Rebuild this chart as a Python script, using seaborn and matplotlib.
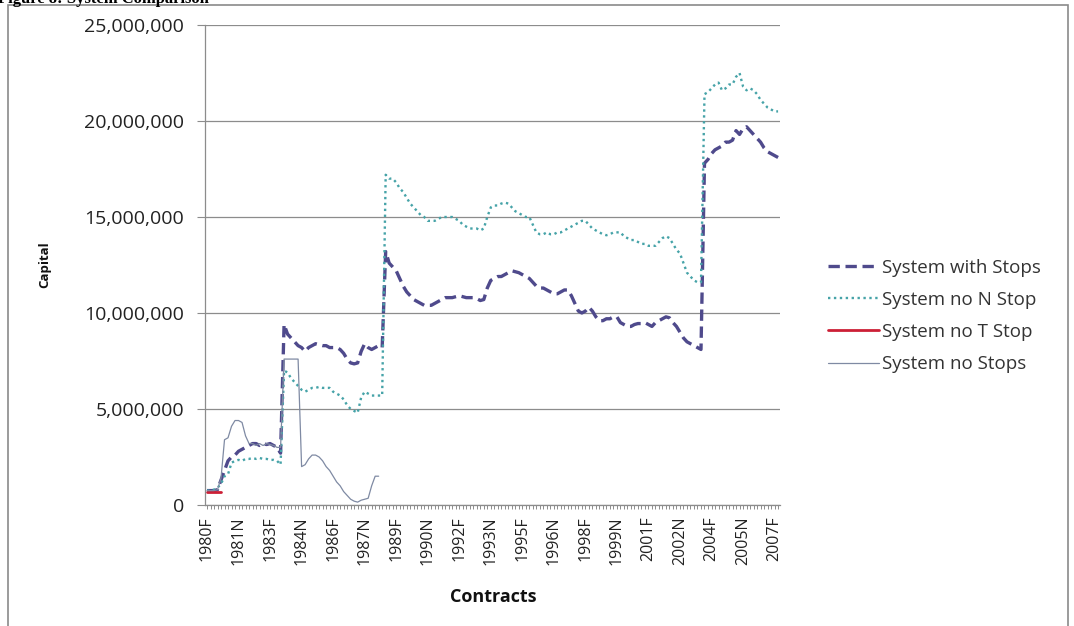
import matplotlib
matplotlib.use("Agg")
import matplotlib.pyplot as plt
from matplotlib.lines import Line2D
from matplotlib.patches import Rectangle
from matplotlib.ticker import FuncFormatter, FixedLocator
import numpy as np
import pandas as pd
import seaborn as sns

# Contract months traded each year (Jan, Mar, May, Jul, Sep, Nov)
months = ["F", "H", "K", "N", "U", "X"]
years = list(range(1980, 2008))
contracts = [f"{y}{m}" for y in years for m in months][:164]

# Capital in millions, one value per contract
with_stops = [
    0.75, 0.75, 0.75, 0.80, 1.30, 1.80,
    2.30, 2.50, 2.60, 2.80, 2.90, 3.00,
    3.10, 3.20, 3.20, 3.10, 3.20, 3.15,
    3.20, 3.10, 3.00, 2.70, 9.40, 8.90,
    8.70, 8.50, 8.30, 8.20, 8.00, 8.20,
    8.30, 8.40, 8.35, 8.30, 8.30, 8.20,
    8.20, 8.20, 8.10, 7.90, 7.60, 7.40,
    7.35, 7.40, 8.00, 8.40, 8.20, 8.10,
    8.20, 8.30, 8.20, 13.20, 12.60, 12.40,
    12.20, 11.80, 11.40, 11.10, 10.90, 10.70,
    10.60, 10.50, 10.40, 10.40, 10.40, 10.50,
    10.60, 10.70, 10.80, 10.80, 10.80, 10.85,
    10.90, 10.85, 10.80, 10.80, 10.80, 10.75,
    10.65, 10.70, 11.30, 11.70, 11.80, 11.90,
    11.90, 12.00, 12.10, 12.20, 12.15, 12.10,
    12.00, 11.90, 11.80, 11.60, 11.40, 11.30,
    11.30, 11.20, 11.10, 11.00, 11.00, 11.10,
    11.20, 11.20, 10.90, 10.50, 10.10, 10.00,
    10.10, 10.30, 10.10, 9.80, 9.60, 9.60,
    9.70, 9.70, 9.80, 9.80, 9.50, 9.40,
    9.30, 9.30, 9.40, 9.45, 9.45, 9.50,
    9.40, 9.30, 9.50, 9.60, 9.70, 9.80,
    9.75, 9.50, 9.30, 9.00, 8.70, 8.50,
    8.40, 8.30, 8.20, 8.10, 17.80, 18.00,
    18.30, 18.50, 18.60, 18.70, 18.90, 18.90,
    19.00, 19.50, 19.30, 19.60, 19.70, 19.50,
    19.30, 19.10, 18.90, 18.60, 18.40, 18.30,
    18.20, 18.10,
]

no_n_stop = [
    0.75, 0.75, 0.80, 0.90, 1.10, 1.50,
    1.60, 2.20, 2.30, 2.35, 2.30, 2.40,
    2.40, 2.45, 2.40, 2.45, 2.40, 2.40,
    2.35, 2.35, 2.30, 2.10, 7.00, 6.90,
    6.60, 6.40, 6.20, 6.00, 5.90, 6.00,
    6.10, 6.10, 6.15, 6.10, 6.10, 6.10,
    5.90, 5.80, 5.70, 5.50, 5.20, 5.00,
    4.90, 4.80, 5.60, 5.90, 5.80, 5.70,
    5.70, 5.70, 5.70, 17.20, 17.00, 17.00,
    16.80, 16.50, 16.30, 16.00, 15.70, 15.50,
    15.30, 15.10, 15.00, 14.80, 14.80, 14.80,
    14.90, 15.00, 15.00, 15.00, 15.00, 14.90,
    14.80, 14.60, 14.50, 14.40, 14.40, 14.40,
    14.30, 14.40, 15.00, 15.50, 15.60, 15.60,
    15.70, 15.75, 15.70, 15.50, 15.30, 15.20,
    15.10, 15.00, 15.00, 14.60, 14.20, 14.10,
    14.10, 14.20, 14.10, 14.10, 14.20, 14.20,
    14.30, 14.40, 14.50, 14.60, 14.70, 14.80,
    14.80, 14.60, 14.40, 14.30, 14.20, 14.10,
    14.05, 14.10, 14.20, 14.20, 14.20, 14.00,
    13.90, 13.80, 13.80, 13.70, 13.60, 13.60,
    13.50, 13.50, 13.50, 13.70, 13.90, 14.00,
    13.90, 13.60, 13.30, 13.10, 12.60, 12.10,
    11.90, 11.70, 11.60, 11.60, 21.40, 21.50,
    21.70, 21.90, 22.00, 21.60, 21.70, 21.90,
    21.90, 22.30, 22.50, 21.80, 21.60, 21.70,
    21.60, 21.40, 21.10, 20.90, 20.70, 20.60,
    20.50, 20.50,
]

no_t_stop = [0.70, 0.70, 0.70, 0.70, 0.70]

no_stops = [
    0.75, 0.75, 0.75, 0.80, 1.40, 3.40,
    3.50, 4.10, 4.40, 4.40, 4.30, 3.60,
    3.20, 3.20, 3.10, 3.20, 3.10, 3.20,
    3.15, 3.10, 3.00, 3.00, 7.60, 7.60,
    7.60, 7.60, 7.60, 2.00, 2.10, 2.40,
    2.60, 2.60, 2.50, 2.30, 2.00, 1.80,
    1.50, 1.20, 1.00, 0.70, 0.50, 0.30,
    0.20, 0.15, 0.25, 0.30, 0.35, 1.00,
    1.50, 1.50,
]

series_names = ["System with Stops", "System no N Stop", "System no T Stop", "System no Stops"]
series_values = [with_stops, no_n_stop, no_t_stop, no_stops]

frames = []
for name, vals in zip(series_names, series_values):
    frames.append(pd.DataFrame({
        "series": name,
        "contract_idx": np.arange(len(vals)),
        "capital": np.asarray(vals) * 1e6,
    }))
df = pd.concat(frames, ignore_index=True)

styles = {
    "System with Stops": dict(color="#4f4a8c", linewidth=2.4, linestyle=(0, (3.4, 1.7))),
    "System no N Stop": dict(color="#46a3a8", linewidth=1.7, linestyle=(0, (1.0, 1.5))),
    "System no T Stop": dict(color="#cc1f36", linewidth=2.0, linestyle="-"),
    "System no Stops": dict(color="#7f8aa3", linewidth=0.9, linestyle="-"),
}

sns.set_theme(style="white")
plt.rcParams["font.family"] = ["Open Sans", "DejaVu Sans"]

fig = plt.figure(figsize=(10.74, 6.26), dpi=100)
ax = fig.add_axes([205 / 1074, 1 - 505 / 626, 575 / 1074, 480 / 626])

for name in series_names:
    sub = df[df["series"] == name]
    sns.lineplot(data=sub, x="contract_idx", y="capital", ax=ax,
                 estimator=None, sort=False, legend=False, **styles[name])

grid_col = "#8c8c8c"
ax.set_ylim(0, 25e6)
ax.set_yticks(np.arange(0, 25e6 + 1, 5e6))
ax.yaxis.set_major_formatter(FuncFormatter(lambda v, p: f"{v:,.0f}"))
ax.yaxis.grid(True, color=grid_col, linewidth=0.9)
ax.xaxis.grid(False)
ax.set_axisbelow(True)

ax.set_xlim(-0.57, len(contracts) - 0.45)
label_pos = list(range(0, len(contracts), 9))
ax.xaxis.set_major_locator(FixedLocator(label_pos))
ax.set_xticklabels([contracts[i] for i in label_pos], rotation=90)
ax.xaxis.set_minor_locator(FixedLocator(range(len(contracts))))

ax.tick_params(axis="x", which="both", direction="out", length=3, width=0.7,
               color=grid_col, bottom=True, labelsize=11.5, pad=5, labelcolor="#222222")
ax.tick_params(axis="y", direction="out", length=6, width=0.8, color=grid_col,
               left=True, labelsize=14, pad=9, labelcolor="#222222")

for side in ["top", "right"]:
    ax.spines[side].set_visible(False)
for side in ["left", "bottom"]:
    ax.spines[side].set_color(grid_col)
    ax.spines[side].set_linewidth(0.9)

ax.set_xlabel("")
ax.set_ylabel("")
fig.text(45 / 1074, 1 - 265 / 626, "Capital", rotation=90, ha="center", va="center",
         fontsize=9.5, fontweight="bold", color="#111111")
fig.text(493 / 1074, 1 - 597 / 626, "Contracts", ha="center", va="center",
         fontsize=13, fontweight="bold", color="#111111")

handles = [Line2D([0], [0], **styles[n]) for n in series_names]
ax.legend(handles, series_names, loc="center left",
          bbox_to_anchor=(828 / 1074, 1 - 316 / 626), bbox_transform=fig.transFigure,
          frameon=False, fontsize=13.5, handlelength=2.7, handletextpad=0.2,
          labelspacing=0.75, borderpad=0, borderaxespad=0, labelcolor="#333333")

# Chart frame and the caption that sits just above it
fig.add_artist(Rectangle((8 / 1074, -0.02), 1060 / 1074, 1.02 - 5 / 626,
                         transform=fig.transFigure, fill=False,
                         edgecolor="#8a8a8a", linewidth=1.2))
fig.text(-2 / 1074, 1 - 3 / 626, "Figure 8: System Comparison", ha="left", va="baseline",
         fontsize=12, fontweight="bold", family="Liberation Serif", color="#000000")

fig.savefig("out.png", dpi=100, facecolor="white")
